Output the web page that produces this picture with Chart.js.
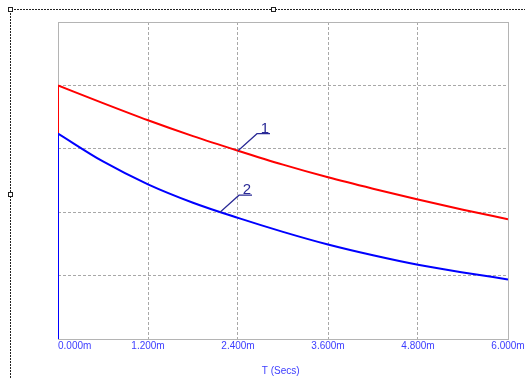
<!DOCTYPE html>
<html>
<head>
<meta charset="utf-8">
<script src="https://cdn.jsdelivr.net/npm/chart.js@4/dist/chart.umd.min.js"></script>
<style>
  html, body { margin: 0; padding: 0; background: #fff; }
  #wrap { width: 525px; height: 378px; position: relative; }
</style>
</head>
<body>
<div id="wrap"><canvas id="myChart"></canvas></div>
<script>
// 시간축 (ms)
const times = [0, 0.6, 1.2, 1.8, 2.4, 3.0, 3.6, 4.2, 4.8, 5.4, 6.0];
// 곡선 1 (빨강), 곡선 2 (파랑)
const curve1 = [4.0, 3.72, 3.45, 3.20, 2.97, 2.75, 2.55, 2.37, 2.20, 2.04, 1.89];
const curve2 = [3.24, 2.80, 2.44, 2.15, 1.91, 1.69, 1.49, 1.32, 1.17, 1.05, 0.94];
// x축 눈금 라벨
const tickValues = [0, 1.2, 2.4, 3.6, 4.8, 6.0];
const tickLabels = ["0.000m", "1.200m", "2.400m", "3.600m", "4.800m", "6.000m"];
const axisTitle = "T (Secs)";
// 곡선 번호 표시 위치 (시간, 값)
const tagNames = ["1", "2"];
const tagTimes = [2.4, 2.16];
const tagValues = [2.97, 2.0];

const toPoints = (vals) => vals.map((v, i) => ({ x: times[i], y: v }));
// t=0 에서 0 -> 시작값으로 올라가는 계단
const stepAt0 = (vals) => [{ x: 0, y: 0 }, { x: 0, y: vals[0] }];

const ctx = document.getElementById("myChart");

// 바깥 점선 테두리 + 손잡이, 그래프 틀, 라벨
const framePlugin = {
  id: "frame",
  beforeDraw(chart) {
    const c = chart.ctx;
    c.save();
    c.strokeStyle = "#222";
    c.lineWidth = 1;
    c.setLineDash([2, 1]);
    c.beginPath();
    c.moveTo(10.5, 378);
    c.lineTo(10.5, 9.5);
    c.lineTo(525, 9.5);
    c.stroke();
    c.setLineDash([]);
    c.fillStyle = "#fff";
    [[10, 9], [10, 194], [273, 9]].forEach(([x, y]) => {
      c.fillRect(x - 2, y - 2, 5, 5);
      c.strokeRect(x - 2 + 0.5, y - 2 + 0.5, 4, 4);
    });
    c.restore();
  },
  beforeDatasetsDraw(chart) {
    const a = chart.chartArea;
    const c = chart.ctx;
    c.save();
    c.strokeStyle = "#b4b4b4";
    c.lineWidth = 1;
    c.strokeRect(Math.round(a.left) + 0.5, Math.round(a.top) + 0.5,
      Math.round(a.right - a.left), Math.round(a.bottom - a.top));
    c.restore();
  },
  afterDraw(chart) {
    const c = chart.ctx;
    const xs = chart.scales.x;
    const ys = chart.scales.y;
    c.save();
    // x축 눈금 라벨
    c.fillStyle = "#3c3cff";
    c.font = "10px 'Liberation Sans', Arial, sans-serif";
    c.textBaseline = "top";
    tickValues.forEach((v, i) => {
      const px = xs.getPixelForValue(v);
      c.textAlign = i === 0 ? "left" : "center";
      c.fillText(tickLabels[i], px, 341);
    });
    c.textAlign = "center";
    c.fillText(axisTitle, xs.getPixelForValue(2.97), 366);
    // 곡선 번호
    c.strokeStyle = "#2a2a96";
    c.fillStyle = "#2a2a96";
    c.lineWidth = 1.2;
    c.font = "15px 'Liberation Sans', Arial, sans-serif";
    c.textBaseline = "alphabetic";
    tagNames.forEach((name, i) => {
      const px = xs.getPixelForValue(tagTimes[i]);
      const py = ys.getPixelForValue(tagValues[i]);
      c.beginPath();
      c.moveTo(px, py);
      c.lineTo(px + 19, py - 17);
      c.lineTo(px + 32, py - 17);
      c.stroke();
      c.fillText(name, px + 27, py - 18);
    });
    c.restore();
  }
};

const lineStyle = (color, order) => ({
  borderColor: color,
  borderWidth: 2,
  pointRadius: 0,
  cubicInterpolationMode: "monotone",
  order: order,
  fill: false
});

const data = {
  datasets: [
    Object.assign({ label: "1", data: toPoints(curve1) }, lineStyle("#ff0000", 2)),
    Object.assign({ label: "1-step", data: stepAt0(curve1) }, lineStyle("#ff0000", 2)),
    Object.assign({ label: "2", data: toPoints(curve2) }, lineStyle("#0000ff", 1)),
    Object.assign({ label: "2-step", data: stepAt0(curve2) }, lineStyle("#0000ff", 1))
  ]
};

const options = {
  responsive: true,
  maintainAspectRatio: false,
  animation: false,
  layout: { padding: { left: 58, top: 22, right: 17, bottom: 39 } },
  plugins: { legend: { display: false }, tooltip: { enabled: false } },
  scales: {
    x: {
      type: "linear",
      min: 0,
      max: 6,
      ticks: { display: false, stepSize: 1.2 },
      grid: { color: "#a8a8a8", drawTicks: false, lineWidth: 1 },
      border: { display: false, dash: [3, 2] }
    },
    y: {
      min: 0,
      max: 5,
      ticks: { display: false, stepSize: 1 },
      grid: { color: "#a8a8a8", drawTicks: false, lineWidth: 1 },
      border: { display: false, dash: [3, 2] }
    }
  }
};

const config = { type: "line", data: data, options: options, plugins: [framePlugin] };
let myChart = new Chart(ctx, config);
</script>
</body>
</html>
